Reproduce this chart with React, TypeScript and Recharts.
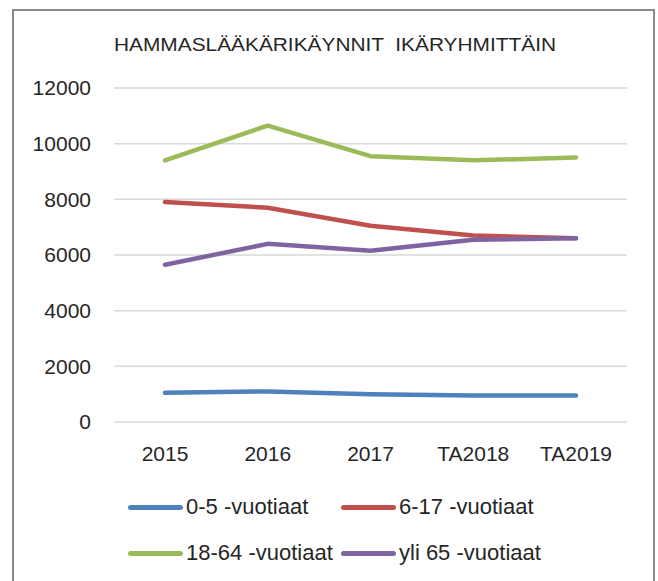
import { LineChart, Line, XAxis, YAxis, CartesianGrid } from "recharts";

const years = ["2015", "2016", "2017", "TA2018", "TA2019"];
const age0to5 = [1050, 1100, 1000, 950, 950];
const age6to17 = [7900, 7700, 7050, 6700, 6600];
const age18to64 = [9400, 10650, 9550, 9400, 9500];
const over65 = [5650, 6400, 6150, 6550, 6600];
const yTicks = [0, 2000, 4000, 6000, 8000, 10000, 12000];

const series = [
  { key: "a", name: "0-5 -vuotiaat", color: "#4F81BD", values: age0to5 },
  { key: "b", name: "6-17 -vuotiaat", color: "#C0504D", values: age6to17 },
  { key: "c", name: "18-64 -vuotiaat", color: "#9BBB59", values: age18to64 },
  { key: "d", name: "yli 65 -vuotiaat", color: "#8064A2", values: over65 },
];

const data = years.map((year, i) => {
  const row: Record<string, string | number> = { year };
  series.forEach((s) => (row[s.key] = s.values[i]));
  return row;
});

const font = "'Liberation Sans', Arial, sans-serif";

export default function App() {
  return (
    <div style={{ position: "absolute", left: 0, top: 0, width: 658, height: 581, background: "#fff", overflow: "hidden", fontFamily: font }}>
      <div style={{ position: "absolute", left: 12, top: 9, width: 639, height: 600, border: "2px solid #8a8a8a" }} />
      <svg style={{ position: "absolute", left: 0, top: 0 }} width={658} height={70}>
        <text x={335} y={51} textAnchor="middle" fontSize={19} fill="#262626" fontFamily={font} textLength={442} lengthAdjust="spacingAndGlyphs">
          {"HAMMASLÄÄKÄRIKÄYNNIT \u00A0IKÄRYHMITTÄIN"}
        </text>
      </svg>
      <div style={{ position: "absolute", left: 0, top: 0 }}>
        <LineChart width={658} height={581} data={data} margin={{ top: 88, right: 31, bottom: 119, left: 54 }}>
          <CartesianGrid vertical={false} stroke="#d9d9d9" strokeWidth={1.5} />
          <XAxis
            dataKey="year"
            axisLine={false}
            tickLine={false}
            tickSize={0}
            tickMargin={24}
            height={40}
            interval={0}
            padding={{ left: 51, right: 51 }}
            tick={{ fontSize: 21, fill: "#262626", fontFamily: font }}
          />
          <YAxis
            domain={[0, 12000]}
            ticks={yTicks}
            axisLine={false}
            tickLine={false}
            tickSize={0}
            tickMargin={23}
            width={60}
            tick={{ fontSize: 21, fill: "#262626", fontFamily: font }}
          />
          {series.map((s) => (
            <Line
              key={s.key}
              dataKey={s.key}
              name={s.name}
              stroke={s.color}
              strokeWidth={4.5}
              strokeLinecap="round"
              strokeLinejoin="round"
              dot={false}
              activeDot={false}
              isAnimationActive={false}
            />
          ))}
        </LineChart>
      </div>
      {series.map((s, i) => {
        const left = i % 2 === 0 ? 128 : 341;
        const top = i < 2 ? 507 : 553;
        return (
          <div key={s.key} style={{ position: "absolute", left, top: top - 14, height: 28, display: "flex", alignItems: "center" }}>
            <div style={{ width: 55, height: 5, borderRadius: 2.5, background: s.color }} />
            <span style={{ marginLeft: 3, fontSize: 22, color: "#262626", whiteSpace: "nowrap" }}>{s.name}</span>
          </div>
        );
      })}
    </div>
  );
}
